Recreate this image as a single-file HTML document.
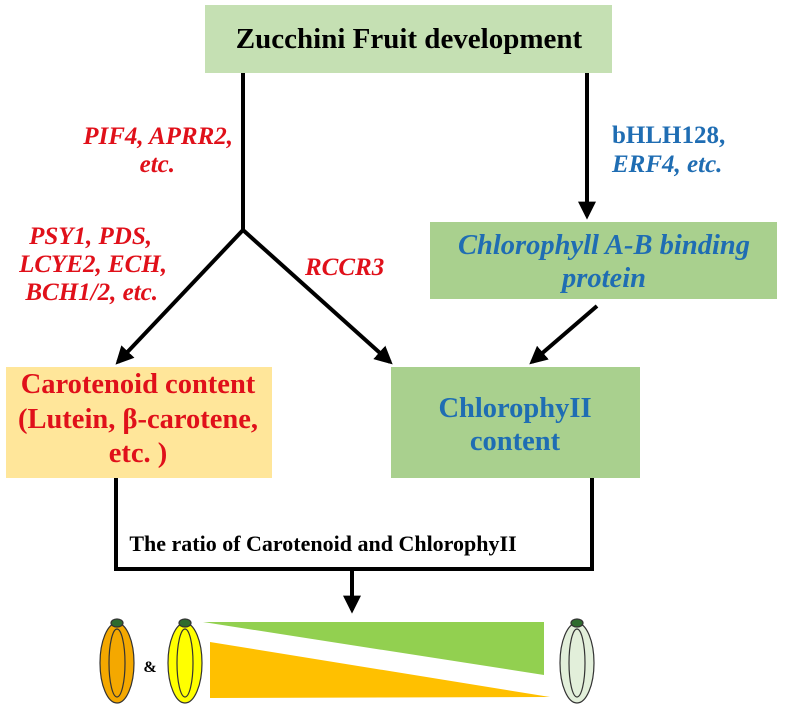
<!DOCTYPE html>
<html><head><meta charset="utf-8"><style>
body{margin:0;background:#fff;}
svg text{font-family:"Liberation Serif",serif;font-weight:bold;}
</style></head><body>
<svg width="787" height="706" viewBox="0 0 787 706" xmlns="http://www.w3.org/2000/svg">
<defs><marker id="a" viewBox="0 0 10 10" refX="8" refY="5" markerWidth="4.5" markerHeight="4.5" orient="auto"><path d="M0,0 L10,5 L0,10 z" fill="#000"/></marker></defs>
<rect x="205" y="5" width="407" height="68" fill="#c5e0b3"/>
<text x="409" y="48" font-size="29" text-anchor="middle" fill="#000">Zucchini Fruit development</text>
<g stroke="#000" stroke-width="4" fill="none">
<line x1="243" y1="73" x2="243" y2="230"/>
<line x1="243" y1="230" x2="118" y2="362" marker-end="url(#a)"/>
<line x1="243" y1="230" x2="390" y2="362" marker-end="url(#a)"/>
<line x1="587" y1="73" x2="587" y2="216" marker-end="url(#a)"/>
<line x1="597" y1="306" x2="532" y2="362" marker-end="url(#a)"/>
<polyline points="116,478 116,569 592,569 592,478"/>
<line x1="352" y1="569" x2="352" y2="610" marker-end="url(#a)"/>
</g>
<g fill="#e0101a" font-style="italic" font-size="25">
<text x="233" y="144" text-anchor="end">PIF4, APRR2,</text>
<text x="175" y="172" text-anchor="end">etc.</text>
<text x="152" y="244" text-anchor="end">PSY1, PDS,</text>
<text x="167" y="272" text-anchor="end">LCYE2, ECH,</text>
<text x="158" y="300" text-anchor="end">BCH1/2, etc.</text>
<text x="305" y="275">RCCR3</text>
</g>
<text x="612" y="143" font-size="25" fill="#1f6db3">bHLH128,</text>
<text x="612" y="172" font-size="25" fill="#1f6db3" font-style="italic">ERF4, etc.</text>
<rect x="430" y="222" width="347" height="77" fill="#a9d08e"/>
<text x="604" y="254" font-size="28.5" fill="#1f6db3" font-style="italic" text-anchor="middle">Chlorophyll A-B binding</text>
<text x="604" y="287" font-size="28.5" fill="#1f6db3" font-style="italic" text-anchor="middle">protein</text>
<rect x="6" y="367" width="266" height="111" fill="#ffe69a"/>
<g fill="#e0101a" font-size="28.5" text-anchor="middle">
<text x="138" y="393">Carotenoid content</text>
<text x="138" y="428">(Lutein, β-carotene,</text>
<text x="138" y="462">etc. )</text>
</g>
<rect x="391" y="367" width="249" height="111" fill="#a9d08e"/>
<text x="515" y="417" font-size="28.5" fill="#1f6db3" text-anchor="middle">ChlorophyII</text>
<text x="515" y="450" font-size="28.5" fill="#1f6db3" text-anchor="middle">content</text>
<text x="323" y="551" font-size="22" fill="#000" text-anchor="middle">The ratio of Carotenoid and ChlorophyII</text>
<polygon points="203,622 544,622 544,675" fill="#92d050"/>
<polygon points="210,642 210,698 550,697" fill="#ffc000"/>
<g stroke="#333" stroke-width="1.2">
<ellipse cx="117" cy="663" rx="17" ry="40" fill="#f4a800"/>
<ellipse cx="185" cy="663" rx="17" ry="40" fill="#ffff00"/>
<ellipse cx="577" cy="663" rx="17" ry="40" fill="#e2efda"/>
<ellipse cx="117" cy="663" rx="8" ry="34" fill="none"/>
<ellipse cx="185" cy="663" rx="8" ry="34" fill="none"/>
<ellipse cx="577" cy="663" rx="8" ry="34" fill="none"/>
<ellipse cx="117" cy="623" rx="6" ry="4" fill="#2e6b2e"/>
<ellipse cx="185" cy="623" rx="6" ry="4" fill="#2e6b2e"/>
<ellipse cx="577" cy="623" rx="6" ry="4" fill="#2e6b2e"/>
</g>
<text x="150" y="672" font-size="16" fill="#000" text-anchor="middle">&amp;</text>
</svg>
</body></html>
